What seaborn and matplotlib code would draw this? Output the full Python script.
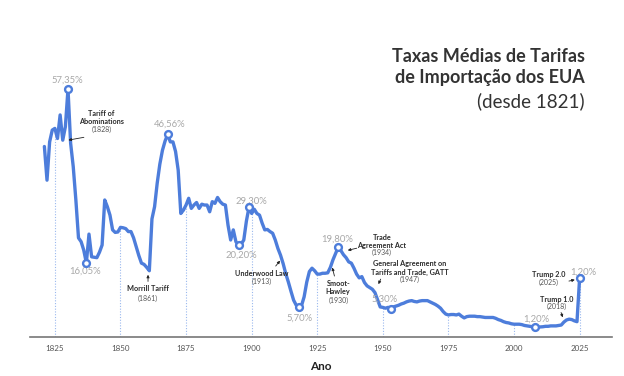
import numpy as np
import pandas as pd
import seaborn as sns
import matplotlib.pyplot as plt

years = list(range(1821, 2026))
rates = [
    43.7, 35.7, 44.8, 47.6, 48.0, 45.6, 51.2, 45.2, 48.4, 57.35,
    44.5, 38.9, 31.0, 22.0, 21.1, 19.1, 16.05, 22.9, 17.5, 17.4,
    17.3, 18.6, 20.3, 31.0, 29.4, 27.4, 23.9, 23.3, 23.4, 24.5,
    24.4, 24.2, 23.5, 23.5, 22.0, 19.9, 17.8, 16.0, 15.7, 15.0,
    14.2, 26.5, 29.4, 35.0, 39.5, 42.8, 45.0, 46.56, 44.8, 44.8,
    42.5, 38.1, 27.8, 28.6, 29.8, 31.4, 29.0, 29.8, 30.4, 29.0,
    30.0, 29.8, 29.8, 28.2, 30.6, 30.2, 31.6, 30.6, 30.0, 29.8,
    25.0, 21.5, 23.9, 21.1, 20.2, 20.5, 21.5, 26.0, 29.3, 27.8,
    28.8, 27.8, 27.4, 25.5, 23.9, 24.0, 23.5, 23.1, 21.5, 19.5,
    17.9, 15.9, 13.5, 11.5, 9.3, 7.2, 6.0, 5.7, 5.9, 8.0,
    11.5, 14.0, 14.8, 14.2, 13.4, 13.4, 13.6, 13.6, 13.7, 15.0,
    16.8, 18.3, 19.8, 19.0, 18.0, 17.3, 16.3, 16.0, 14.8, 13.4,
    12.5, 12.8, 11.4, 10.6, 10.2, 9.8, 9.0, 7.3, 5.6, 5.5,
    5.3, 5.5, 5.0, 5.6, 5.8, 6.0, 6.3, 6.5, 6.8, 7.0,
    7.1, 6.9, 6.8, 7.0, 7.1, 7.1, 7.1, 6.8, 6.5, 6.2,
    5.8, 5.3, 4.5, 3.9, 3.7, 3.8, 3.8, 3.7, 3.9, 3.4,
    3.0, 3.3, 3.4, 3.4, 3.4, 3.3, 3.3, 3.2, 3.1, 3.1,
    3.1, 3.1, 2.9, 2.6, 2.4, 2.1, 1.9, 1.8, 1.6, 1.5,
    1.5, 1.5, 1.4, 1.2, 1.1, 1.0, 0.9, 0.8, 0.8, 0.85,
    0.9, 1.0, 1.0, 1.1, 1.1, 1.1, 1.2, 1.3, 2.0, 2.5,
    2.7, 2.6, 2.3, 2.1, 12.4,
]

# highlighted points and their labels
mark_years = [1830, 1837, 1868, 1895, 1899, 1918, 1933, 1953, 2008, 2025]
mark_labels = ["57,35%", "16,05%", "46,56%", "20,20%", "29,30%",
               "5,70%", "19,80%", "5,30%", "1,20%", "1,20%"]
label_pos = [(1829.7, 59.5), (1836.4, 14.0), (1868.9, 49.0), (1896.2, 17.9),
             (1900.0, 30.8), (1918.4, 2.9), (1932.6, 21.7), (1950.6, 7.4),
             (2008.6, 2.8), (2026.3, 13.8)]

tick_years = [1825, 1850, 1875, 1900, 1925, 1950, 1975, 2000, 2025]

# (name, year, text x, text y of name, y of year, arrow start, arrow tip)
events = [
    ("Tariff of\nAbominations", "(1828)", 1842.8, 50.6, 47.8, (1837.1, 46.0), (1829.1, 45.1)),
    ("Morrill Tariff", "(1861)", 1860.5, 9.9, 7.7, (1860.5, 11.0), (1860.5, 13.9)),
    ("Underwood Law", "(1913)", 1903.8, 13.6, 11.6, (1908.5, 14.8), (1911.5, 17.1)),
    ("Smoot-\nHawley", "(1930)", 1933.0, 10.3, 7.2, (1931.8, 12.3), (1930.5, 15.6)),
    ("Trade\nAgreement Act", "(1934)", 1949.6, 21.2, 18.5, (1941.1, 19.7), (1935.6, 18.9)),
    ("General Agreement on\nTariffs and Trade, GATT", "(1947)", 1960.4, 14.85, 12.2,
     (1949.6, 12.8), (1947.9, 10.4)),
    ("Trump 2.0", "(2025)", 2013.1, 13.3, 11.4, (2019.9, 11.6), (2024.2, 12.2)),
    ("Trump 1.0", "(2018)", 2016.3, 7.4, 5.65, (2017.6, 4.9), (2018.9, 2.5)),
]

df = pd.DataFrame({"Ano": years, "Taxa": rates})
line_color = "#4d7ddb"

sns.set_theme(style="white")
plt.rcParams["font.family"] = ["Lato", "DejaVu Sans"]

fig = plt.figure(figsize=(6.24, 3.76), dpi=100)
ax = fig.add_axes([0.048, 0.1037, 0.933, 0.79])

ymin = -1.54
ax.set_xlim(1815.5, 2037.4)
ax.set_ylim(ymin, 69.0)

# dotted guides from the axis up to the line
rate_of = dict(zip(years, rates))
ax.vlines(tick_years, ymin, [rate_of[y] for y in tick_years],
          colors="#9ab8ee", linestyles=(0, (1, 1.5)), linewidth=0.8, zorder=1)

sns.lineplot(data=df, x="Ano", y="Taxa", ax=ax, color=line_color,
             linewidth=2.4, zorder=3)

ax.scatter(mark_years, [rate_of[y] for y in mark_years], s=24,
           facecolor="white", edgecolor=line_color, linewidth=1.7, zorder=4)

for lab, (lx, ly) in zip(mark_labels, label_pos):
    ax.text(lx, ly, lab, ha="center", va="center", fontsize=6.8,
            color="#a8a8a8")

for name, yr, tx, ty_name, ty_year, start, tip in events:
    ax.text(tx, ty_name, name, ha="center", va="center", fontsize=5.2,
            fontweight="bold", color="#2b2b2b", linespacing=1.2)
    ax.text(tx, ty_year, yr, ha="center", va="center", fontsize=5.0,
            color="#555555")
    ax.annotate("", xy=tip, xytext=start,
                arrowprops=dict(arrowstyle="-|>", color="#222222", lw=0.6,
                                mutation_scale=4))

# title block
title_color = "#333333"
fig.text(0.937, 0.851, "Taxas Médias de Tarifas", ha="right", va="center",
         fontsize=13, color=title_color, fontweight="bold")
fig.text(0.937, 0.793, "de Importação dos EUA", ha="right", va="center",
         fontsize=13, color=title_color, fontweight="bold")
fig.text(0.937, 0.731, "(desde 1821)", ha="right", va="center",
         fontsize=13.5, color=title_color, fontweight="normal")

for side in ["left", "top", "right"]:
    ax.spines[side].set_visible(False)
ax.spines["bottom"].set_color("#777777")
ax.spines["bottom"].set_linewidth(1.2)
ax.set_yticks([])
ax.set_xticks(tick_years)
ax.set_xticklabels([str(t) for t in tick_years])
ax.tick_params(axis="x", length=0, labelsize=5.8, labelcolor="#555555", pad=6)
ax.set_ylabel("")
ax.set_xlabel("Ano", fontsize=8.5, fontweight="bold", color="#222222", labelpad=6)

fig.savefig("out.png", dpi=100, facecolor="white")
